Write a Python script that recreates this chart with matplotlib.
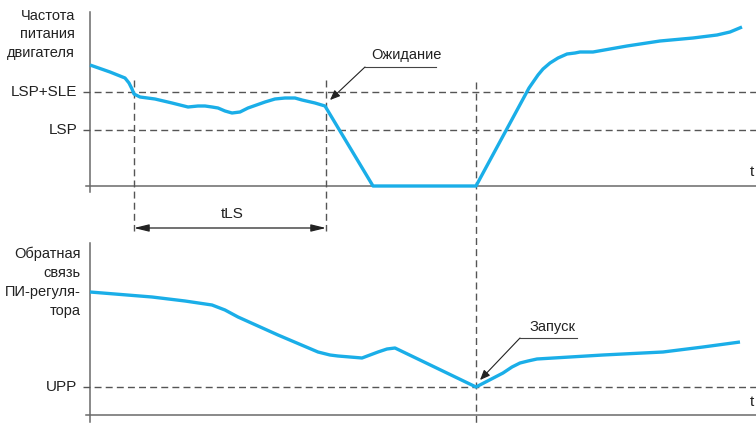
import matplotlib
matplotlib.use("Agg")
import matplotlib.pyplot as plt
import matplotlib.transforms as mtrans
from matplotlib.patches import FancyArrowPatch

# ---------------- data ----------------
# upper chart: motor supply frequency vs time (arbitrary units)
time_top = [0, 20, 35, 39, 42, 44, 50, 65, 82, 98, 108, 115, 122, 128, 135, 142, 150,
            158, 175, 185, 195, 205, 212, 225, 235,
            283, 386, 439, 448, 453, 460, 468, 477, 485, 490, 503, 537, 570, 603, 627, 640, 652]
freq_top = [121, 114, 108, 103, 97, 92, 89, 87, 83, 79, 80, 80, 79, 78, 75, 73, 74,
            78, 84, 87, 88, 88, 86, 83, 80,
            0, 0, 98, 111, 117, 123, 128, 132, 133, 134, 134, 140, 145, 148, 151, 154, 159]
lsp_sle = 94
lsp = 56

# lower chart: PI feedback vs time
time_bot = [0, 62, 95, 122, 135, 148, 188, 228, 240, 248, 272, 280, 288, 297, 305, 386,
            413, 422, 430, 438, 447, 513, 573, 613, 650]
fb_bot = [123, 118, 114, 110, 105, 98, 80, 63, 60, 59, 57, 60, 63, 66, 67, 28,
          42, 48, 52, 54, 56, 60, 63, 68, 73]
upp = 28

t_sleep_start = 44   # start of tLS
t_wait = 236         # Ожидание
t_wake = 386         # Запуск

top_ylabel = ["Частота", "питания", "двигателя"]
bot_ylabel = ["Обратная", "связь", "ПИ-регуля-", "тора"]

# ---------------- style ----------------
W, H = 756, 423
FAM = ["Liberation Sans Narrow", "Liberation Sans", "DejaVu Sans"]
plt.rcParams["font.family"] = FAM
BLUE = "#1aaee8"
DASH = "#555555"
AX = "#6a6a6a"
TXT = "#222222"

fig = plt.figure(figsize=(W / 100, H / 100), dpi=100)


def fx(x):
    return x / W


def fy(y):
    return 1 - y / H


ax_t = fig.add_axes([fx(90), fy(186), 666 / W, 174 / H])
ax_b = fig.add_axes([fx(90), fy(415), 666 / W, 172 / H])
for ax, top in ((ax_t, 174), (ax_b, 172)):
    ax.set_xlim(0, 666)
    ax.set_ylim(0, top)
    ax.axis("off")

dash = dict(color=DASH, lw=1.0, dashes=(5, 3), clip_on=False)

# axes lines
ax_t.plot([0, 0], [-6, 174], color=AX, lw=1.1, clip_on=False)
ax_t.plot([-4, 666], [0, 0], color=AX, lw=1.1, clip_on=False)
ax_b.plot([0, 0], [-7, 172], color=AX, lw=1.1, clip_on=False)
ax_b.plot([-4, 666], [0, 0], color=AX, lw=1.1, clip_on=False)

# horizontal threshold lines
ax_t.plot([-7, 666], [lsp_sle, lsp_sle], **dash)
ax_t.plot([-7, 666], [lsp, lsp], **dash)
ax_b.plot([-7, 666], [upp, upp], **dash)

# vertical guide lines (x in data, y in figure fraction)
bt = mtrans.blended_transform_factory(ax_t.transData, fig.transFigure)
for tv, y0, y1 in ((t_sleep_start, 80, 231), (t_wait, 80, 231), (t_wake, 82, 423)):
    ax_t.plot([tv, tv], [fy(y0), fy(y1)], transform=bt, **dash)

# curves
ax_t.plot(time_top, freq_top, color=BLUE, lw=2.4, solid_joinstyle="round",
          solid_capstyle="butt", clip_on=False, zorder=5)
ax_b.plot(time_bot, fb_bot, color=BLUE, lw=2.4, solid_joinstyle="round",
          solid_capstyle="butt", clip_on=False, zorder=5)

# tLS double arrow
ax_t.annotate("", xy=(t_sleep_start, fy(228)), xytext=(t_wait, fy(228)),
              xycoords=("data", "figure fraction"), textcoords=("data", "figure fraction"),
              arrowprops=dict(arrowstyle="<|-|>,head_length=0.9,head_width=0.22",
                              color="#222222", lw=0.9, shrinkA=0, shrinkB=0))
fig.text(fx(232), fy(214), "tLS", ha="center", va="center", fontsize=11,
         color=TXT, family=["Liberation Sans", "DejaVu Sans"])

# Ожидание callout
fig.add_artist(plt.Line2D([fx(365), fx(436)], [fy(67), fy(67)], color="#444444", lw=0.8))
fig.add_artist(FancyArrowPatch(
    (fx(365), fy(67)), (fx(330), fy(100)), transform=fig.transFigure,
    arrowstyle="-|>,head_length=6,head_width=2.5", color="#222222", lw=0.8,
    shrinkA=0, shrinkB=0))
fig.text(fx(406), fy(55), "Ожидание", ha="center", va="center", fontsize=10.5, color=TXT)

# Запуск callout
fig.add_artist(plt.Line2D([fx(520), fx(577)], [fy(338), fy(338)], color="#444444", lw=0.8))
fig.add_artist(FancyArrowPatch(
    (fx(520), fy(338)), (fx(480), fy(380)), transform=fig.transFigure,
    arrowstyle="-|>,head_length=6,head_width=2.5", color="#222222", lw=0.8,
    shrinkA=0, shrinkB=0))
fig.text(fx(553), fy(327), "Запуск", ha="center", va="center", fontsize=10.5, color=TXT)

# axis labels
for i, s in enumerate(top_ylabel):
    fig.text(fx(75), fy(16 + 18.5 * i), s, ha="right", va="center", fontsize=10.5, color=TXT)
for i, s in enumerate(bot_ylabel):
    fig.text(fx(81), fy(254 + 19 * i), s, ha="right", va="center", fontsize=10.5, color=TXT)

lab = dict(ha="right", va="center", fontsize=11, color=TXT,
           family=["Liberation Sans", "DejaVu Sans"])
fig.text(fx(77), fy(92), "LSP+SLE", **lab)
fig.text(fx(77), fy(130), "LSP", **lab)
fig.text(fx(77), fy(387), "UPP", **lab)
fig.text(fx(750), fy(172), "t", ha="left", va="center", fontsize=11, color=TXT,
         family=["Liberation Sans", "DejaVu Sans"])
fig.text(fx(750), fy(402), "t", ha="left", va="center", fontsize=11, color=TXT,
         family=["Liberation Sans", "DejaVu Sans"])

fig.savefig("out.png", dpi=100, facecolor="white")
